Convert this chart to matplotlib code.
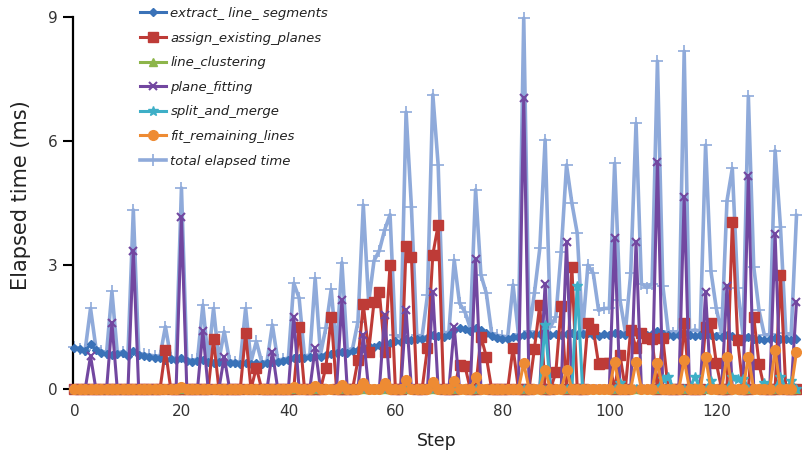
import matplotlib
matplotlib.use("Agg")
import matplotlib.pyplot as plt

steps = list(range(136))

extract_line_segments = [
    1.00, 0.96, 0.92, 1.08, 0.95, 0.88, 0.85, 0.82, 0.84, 0.86,
    0.80, 0.92, 0.82, 0.80, 0.78, 0.76, 0.75, 0.70, 0.72, 0.70,
    0.76, 0.68, 0.66, 0.67, 0.70, 0.66, 0.64, 0.65, 0.62, 0.63,
    0.62, 0.60, 0.64, 0.61, 0.62, 0.60, 0.62, 0.66, 0.65, 0.68,
    0.70, 0.74, 0.76, 0.74, 0.78, 0.80, 0.78, 0.82, 0.84, 0.86,
    0.90, 0.88, 0.92, 0.95, 1.00, 1.05, 1.02, 1.06, 1.10, 1.12,
    1.15, 1.14, 1.20, 1.18, 1.22, 1.20, 1.24, 1.30, 1.28, 1.26,
    1.30, 1.42, 1.48, 1.45, 1.40, 1.48, 1.42, 1.35, 1.28, 1.24,
    1.22, 1.20, 1.25, 1.26, 1.30, 1.32, 1.30, 1.34, 1.36, 1.30,
    1.32, 1.30, 1.34, 1.36, 1.30, 1.32, 1.35, 1.30, 1.28, 1.32,
    1.30, 1.36, 1.32, 1.30, 1.34, 1.38, 1.32, 1.30, 1.34, 1.40,
    1.34, 1.30, 1.28, 1.30, 1.36, 1.30, 1.28, 1.30, 1.34, 1.30,
    1.28, 1.26, 1.30, 1.28, 1.24, 1.22, 1.26, 1.22, 1.20, 1.18,
    1.20, 1.24, 1.22, 1.20, 1.18, 1.20,
]

assign_existing_planes = [
    0, 0, 0, 0, 0, 0, 0, 0, 0, 0,
    0, 0, 0, 0, 0, 0, 0, 0.95, 0, 0,
    0, 0, 0, 0, 0, 0, 1.20, 0, 0, 0,
    0, 0, 1.35, 0, 0.52, 0, 0, 0, 0, 0,
    0, 0, 1.50, 0, 0, 0, 0, 0.52, 1.75, 0,
    0, 0, 0, 0.70, 2.05, 0.90, 2.10, 2.35, 0.90, 3.00,
    0, 0, 3.45, 3.20, 0, 0, 1.00, 3.25, 3.97, 0,
    0, 0, 0.58, 0.56, 0, 0, 1.27, 0.78, 0, 0,
    0, 0, 1.00, 0, 0, 0, 0.98, 2.03, 0, 0,
    0.40, 2.00, 0, 2.95, 0, 0, 1.60, 1.45, 0.60, 0.62,
    0.62, 0, 0.82, 0, 1.43, 1.00, 1.35, 1.23, 1.20, 0,
    1.23, 0, 0, 0, 1.60, 0, 0, 0, 1.50, 1.60,
    0.63, 0, 0, 4.04, 1.19, 0, 0, 1.75, 0.60, 0,
    0, 0, 2.76, 0, 0, 0,
]

line_clustering = [0] * 136

plane_fitting = [
    0, 0, 0, 0.80, 0, 0, 0, 1.60, 0, 0,
    0, 3.35, 0, 0, 0, 0, 0, 0, 0, 0,
    4.15, 0, 0, 0, 1.40, 0, 0, 0, 0.78, 0,
    0, 0, 0, 0, 0, 0, 0, 0.90, 0, 0,
    0, 1.75, 0, 0, 0, 1.00, 0, 0, 0, 0,
    2.15, 0, 0, 0, 1.30, 0, 0, 0, 1.80, 0,
    0, 0, 1.90, 0, 0, 0, 0, 2.35, 0, 0,
    0, 1.50, 0, 0, 0, 3.15, 0, 0, 0, 0,
    0, 0, 0, 0, 7.05, 0, 0, 0, 2.55, 0,
    0, 0, 3.55, 0, 0, 0, 0, 0, 0, 0,
    0, 3.65, 0, 0, 0, 3.55, 0, 0, 0, 5.50,
    0, 0, 0, 0, 4.65, 0, 0, 0, 2.35, 0,
    0, 0, 2.50, 0, 0, 0, 5.15, 0, 0, 0,
    0, 3.75, 0, 0, 0, 2.10,
]

split_and_merge = [
    0, 0, 0, 0, 0, 0, 0, 0, 0, 0,
    0, 0, 0, 0, 0, 0, 0, 0, 0, 0,
    0, 0, 0, 0, 0, 0, 0, 0, 0, 0,
    0, 0, 0, 0, 0, 0, 0, 0, 0, 0,
    0, 0, 0, 0, 0, 0, 0, 0, 0, 0,
    0, 0, 0, 0, 0, 0, 0, 0, 0, 0,
    0, 0, 0, 0, 0, 0, 0, 0, 0, 0,
    0, 0, 0, 0, 0, 0, 0, 0, 0, 0,
    0, 0, 0, 0, 0, 0, 0, 0, 1.55, 0,
    0, 0, 0, 0, 2.50, 0, 0, 0, 0, 0,
    0, 0, 0.15, 0, 0, 0, 0, 0, 0, 0,
    0.25, 0.30, 0, 0, 0, 0, 0.30, 0, 0, 0.20,
    0, 0, 0, 0.30, 0.25, 0.25, 0, 0, 0, 0.15,
    0, 0, 0.30, 0, 0.20, 0,
]

fit_remaining_lines = [
    0, 0, 0, 0, 0, 0, 0, 0, 0, 0,
    0, 0, 0, 0, 0, 0, 0, 0, 0, 0,
    0.05, 0, 0, 0, 0, 0, 0, 0, 0, 0,
    0, 0, 0, 0, 0, 0, 0, 0, 0, 0,
    0, 0.05, 0, 0, 0, 0.08, 0, 0, 0, 0,
    0.10, 0, 0, 0, 0.15, 0, 0, 0, 0.15, 0,
    0, 0, 0.22, 0, 0, 0, 0, 0.18, 0, 0,
    0, 0.20, 0, 0, 0, 0.28, 0, 0, 0, 0,
    0, 0, 0, 0, 0.62, 0, 0, 0, 0.46, 0,
    0, 0, 0.46, 0, 0, 0, 0, 0, 0, 0,
    0, 0.66, 0, 0, 0, 0.66, 0, 0, 0, 0.63,
    0, 0, 0, 0, 0.70, 0, 0, 0, 0.78, 0,
    0, 0, 0.78, 0, 0, 0, 0.78, 0, 0, 0,
    0, 0.94, 0, 0, 0, 0.90,
]

total_elapsed = [
    1.02, 0.98, 0.95, 1.95, 1.00, 0.92, 0.88, 2.36, 0.88, 0.90,
    0.84, 4.33, 0.86, 0.84, 0.82, 0.80, 0.80, 1.51, 0.76, 0.75,
    4.86, 0.72, 0.70, 0.72, 2.03, 0.70, 1.95, 0.70, 1.39, 0.68,
    0.66, 0.66, 1.95, 0.66, 1.15, 0.65, 0.67, 1.55, 0.70, 0.72,
    0.75, 2.56, 2.20, 0.80, 0.82, 2.68, 0.84, 1.48, 2.41, 0.92,
    3.06, 0.94, 0.98, 1.63, 4.45, 2.10, 3.10, 3.35, 3.85, 4.22,
    1.30, 1.25, 6.70, 4.40, 1.30, 1.28, 2.27, 7.12, 5.42, 1.35,
    1.38, 3.12, 2.07, 1.87, 1.48, 4.82, 2.76, 2.32, 1.35, 1.30,
    1.28, 1.26, 2.52, 1.34, 8.97, 1.40, 2.32, 3.40, 6.03, 1.50,
    1.75, 3.32, 5.42, 4.50, 3.77, 1.40, 3.00, 2.80, 1.90, 1.95,
    1.95, 5.46, 2.15, 1.38, 2.80, 6.43, 2.55, 2.45, 2.55, 7.93,
    2.50, 1.40, 1.36, 1.40, 8.17, 1.40, 1.43, 1.40, 5.90, 2.85,
    1.95, 1.35, 4.55, 5.34, 2.45, 1.30, 7.08, 2.96, 1.90, 1.30,
    1.32, 5.77, 3.93, 1.35, 1.30, 4.20,
]

fig = plt.figure(figsize=(8.03, 4.63), dpi=100)
ax = fig.add_axes([0.0909, 0.1598, 0.905, 0.8035])

lw = 2.2
h1, = ax.plot(steps, extract_line_segments, color='#3A72B8', lw=lw, marker='D', ms=4.5,
              label='extract_ line_ segments', zorder=3, clip_on=False)
h2, = ax.plot(steps, assign_existing_planes, color='#BE3B37', lw=lw, marker='s', ms=6.5,
              label='assign_existing_planes', zorder=4, clip_on=False)
h3, = ax.plot(steps, line_clustering, color='#8DB54A', lw=lw, marker='^', ms=6,
              label='line_clustering', zorder=5, clip_on=False)
h4, = ax.plot(steps, plane_fitting, color='#7247A0', lw=lw, marker='x', ms=6, mew=1.5,
              label='plane_fitting', zorder=6, clip_on=False)
h5, = ax.plot(steps, split_and_merge, color='#3EAFC7', lw=lw, marker='*', ms=7,
              label='split_and_merge', zorder=7, clip_on=False)
h6, = ax.plot(steps, fit_remaining_lines, color='#EE8B33', lw=lw, marker='o', ms=7,
              label='fit_remaining_lines', zorder=8, clip_on=False)
h7, = ax.plot(steps, total_elapsed, color='#8FAADA', lw=2.6, marker='+', ms=8, mew=1.2,
              label='total elapsed time', zorder=2, clip_on=False)

ax.set_xlim(-0.28, 135.6)
ax.set_ylim(0, 9)
ax.set_yticks([0, 3, 6, 9])
ax.set_xticks([0, 20, 40, 60, 80, 100, 120])

for s in ['top', 'right']:
    ax.spines[s].set_visible(False)
ax.spines['left'].set_linewidth(1.6)
ax.spines['bottom'].set_linewidth(1.2)

ax.tick_params(axis='y', direction='out', length=7, width=1.5, labelsize=11,
               labelcolor='#333333', pad=4)
ax.tick_params(axis='x', direction='out', length=3, width=1.2, labelsize=11,
               labelcolor='#333333', pad=8)

ax.set_ylabel('Elapsed time (ms)', fontsize=15, color='#222222')
ax.yaxis.set_label_coords(-0.058, 0.52)
ax.set_xlabel('Step', fontsize=12.5, color='#222222')
ax.xaxis.set_label_coords(0.5, -0.115)

ax.legend(handles=[h1, h2, h3, h4, h5, h6, h7], loc='upper left',
          bbox_to_anchor=(140 / 803, 1 - 7 / 463), bbox_transform=fig.transFigure,
          frameon=False, prop={'style': 'italic', 'size': 9.5},
          handlelength=2.0, handletextpad=0.3, labelspacing=0.88,
          borderpad=0, borderaxespad=0, labelcolor='#222222')

fig.savefig('out.png', dpi=100)
